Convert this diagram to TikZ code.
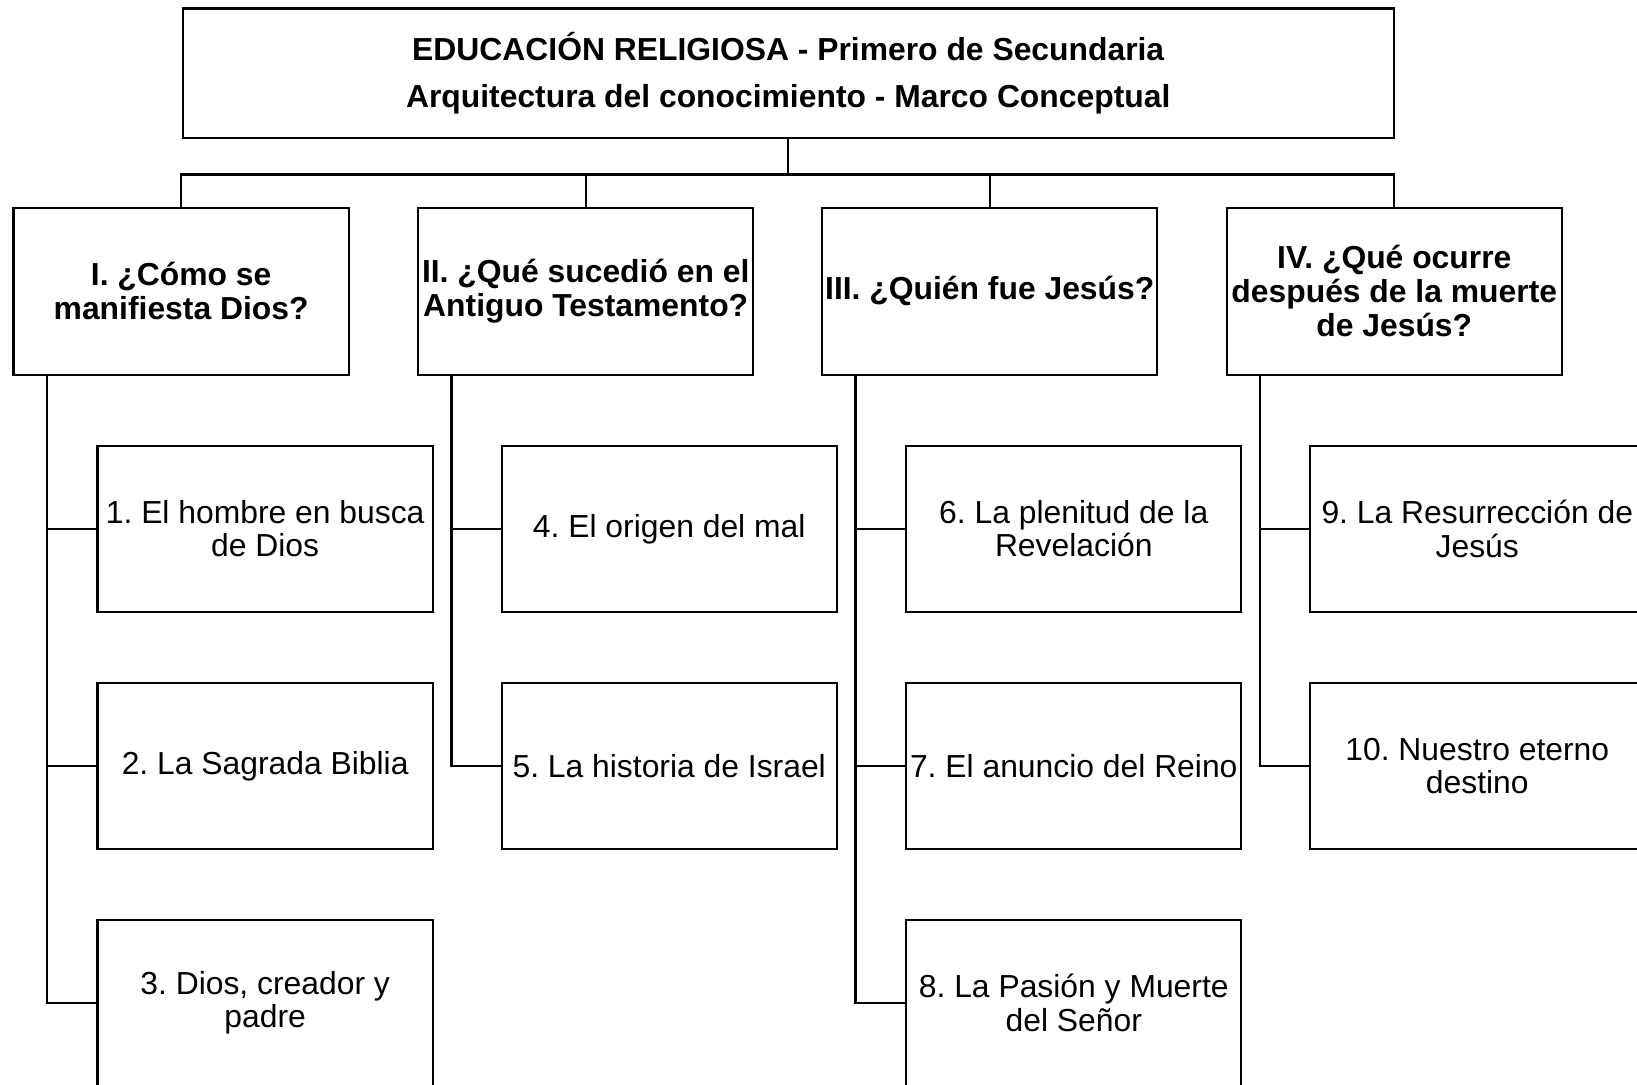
\documentclass[tikz,border=0pt]{standalone}
\usepackage{fontspec}
\setmainfont{Liberation Sans}
\frenchspacing
\begin{document}
\begin{tikzpicture}[x=0.5pt,y=-0.5pt,
  box/.style={draw=black,line width=1.1pt,fill=white,inner sep=0pt,align=center,
    font=\fontsize{15.25pt}{16pt}\selectfont},
  headbox/.style={box,minimum width=160.5pt,minimum height=80pt,font=\fontsize{15.25pt}{16.2pt}\selectfont\bfseries},
  itembox/.style={box,minimum width=160.5pt,minimum height=79.5pt},
  titlebox/.style={box,minimum width=580pt,minimum height=62pt,font=\fontsize{15.25pt}{22.5pt}\selectfont\bfseries},
  link/.style={draw=black,line width=1.1pt}]
\useasboundingbox (0,0) rectangle (1568,1039);
\clip (0,0) rectangle (1568,1039);
\fill[white] (0,0) rectangle (1568,1039);

\node[titlebox] (title) at (755,70) {EDUCACIÓN RELIGIOSA - Primero de Secundaria\\Arquitectura del conocimiento - Marco Conceptual};

\node[headbox] (h1) at (173.5,279) {I. ¿Cómo se\\manifiesta Dios?};
\node[headbox] (h2) at (561,279) {II. ¿Qué sucedió en el\\Antiguo Testamento?};
\node[headbox] (h3) at (948,279) {III. ¿Quién fue Jesús?};
\node[headbox] (h4) at (1335.5,279) {IV. ¿Qué ocurre\\después de la muerte\\de Jesús?};

\node[itembox] (c1) at (254,506.5) {1. El hombre en busca\\de Dios};
\node[itembox] (c2) at (254,733.5) {2. La Sagrada Biblia};
\node[itembox] (c3) at (254,960.5) {3. Dios, creador y\\padre};
\node[itembox] (c4) at (641,506.5) {4. El origen del mal};
\node[itembox] (c5) at (641,733.5) {5. La historia de Israel};
\node[itembox] (c6) at (1028.5,506.5) {6. La plenitud de la\\Revelación};
\node[itembox] (c7) at (1028.5,733.5) {7. El anuncio del Reino};
\node[itembox] (c8) at (1028.5,960.5) {8. La Pasión y Muerte\\del Señor};
\node[itembox] (c9) at (1415,506.5) {9. La Resurrección de\\Jesús};
\node[itembox] (c10) at (1415,733.5) {10. Nuestro eterno\\destino};

\coordinate (bus) at (755,167);
\draw[link] (title.south) -- (bus);
\foreach \h in {h1,h2,h3,h4}{
  \draw[link] (bus) -| (\h.north);
}

\foreach \h/\c in {h1/c1,h1/c2,h1/c3,h2/c4,h2/c5,h3/c6,h3/c7,h3/c8,h4/c9,h4/c10}{
  \draw[link] ([xshift=16.5pt]\h.south west) |- (\c.west);
}
\end{tikzpicture}
\end{document}
